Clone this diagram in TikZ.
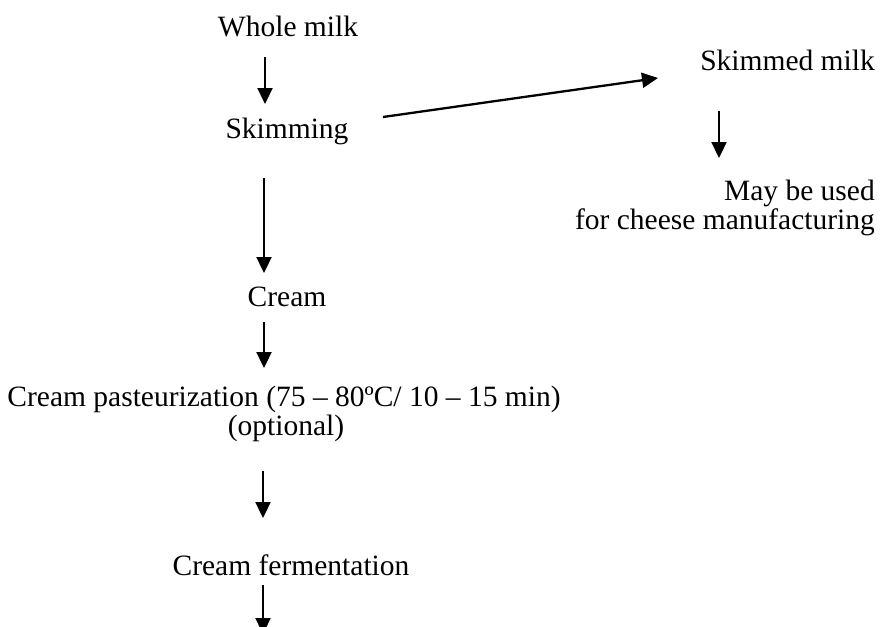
\documentclass[tikz,border=0pt]{standalone}
\usepackage{fontspec}
\setmainfont{Liberation Serif}
\usetikzlibrary{arrows.meta}
\begin{document}
\begin{tikzpicture}[x=1pt,y=-1pt,
  lbl/.style={inner sep=0pt, font=\fontsize{29.5}{26}\selectfont},
  arr/.style={line width=2.3pt, -{Triangle[length=16pt,width=15pt]}}]
\useasboundingbox (0,0) rectangle (887,627);
\clip (0,0) rectangle (887,627);
% text nodes
\node[lbl,anchor=base] (whole) at (288,36) {Whole milk};
\node[lbl,anchor=base] (skim) at (287,138) {Skimming};
\node[lbl,anchor=base east] (skimmed) at (875,70) {Skimmed milk};
\node[lbl,anchor=base east] (may1) at (875,200) {May be used};
\node[lbl,anchor=base east] (may2) at (875,229) {for cheese manufacturing};
\node[lbl,anchor=base] (cream) at (287,306) {Cream};
\node[lbl,anchor=base] (past1) at (284,406) {Cream pasteurization (75 – 80ºC/ 10 – 15 min)};
\node[lbl,anchor=base] (past2) at (286,435) {(optional)};
\node[lbl,anchor=base] (ferm) at (291,575) {Cream fermentation};
% connector end points
\coordinate (a1s) at (265,57);  \coordinate (a1e) at (265,104);
\coordinate (dgs) at (383,117); \coordinate (dge) at (658,78);
\coordinate (a2s) at (719,111); \coordinate (a2e) at (719,158);
\coordinate (a3s) at (264,178); \coordinate (a3e) at (264,273);
\coordinate (a4s) at (264,322); \coordinate (a4e) at (264,368);
\coordinate (a5s) at (263,471); \coordinate (a5e) at (263,518);
\coordinate (a6s) at (263,585); \coordinate (a6e) at (263,634);
% connectors
\draw[arr] (a1s) -- (a1e);
\draw[arr] (dgs) -- (dge);
\draw[arr] (a2s) -- (a2e);
\draw[arr] (a3s) -- (a3e);
\draw[arr] (a4s) -- (a4e);
\draw[arr] (a5s) -- (a5e);
\draw[arr] (a6s) -- (a6e);
\end{tikzpicture}
\end{document}
